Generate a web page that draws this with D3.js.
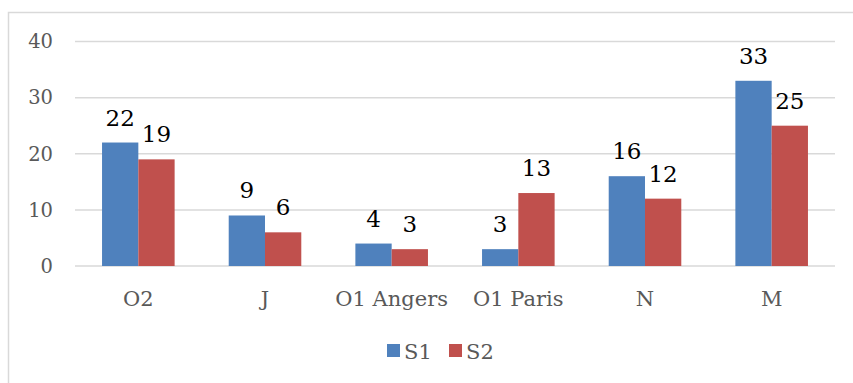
<!DOCTYPE html>
<html>
<head>
<meta charset="utf-8">
<script src="https://cdn.jsdelivr.net/npm/d3@7"></script>
<style>
  html, body { margin: 0; padding: 0; background: #fff; }
  svg { display: block; }
  text { font-family: "DejaVu Serif", "Liberation Serif", serif; }
</style>
</head>
<body>
<svg id="chart" width="853" height="383"></svg>
<script>
// Grouped bar chart: two series per category
const categories = ["O2", "J", "O1 Angers", "O1 Paris", "N", "M"];
const seriesNames = ["S1", "S2"];
const s1Values = [22, 9, 4, 3, 16, 33];
const s2Values = [19, 6, 3, 13, 12, 25];
const yTicks = [0, 10, 20, 30, 40];

const colors = ["#4F81BD", "#C0504D"];
const seriesValues = [s1Values, s2Values];

const svg = d3.select("#chart");
const plot = { left: 75, right: 835, top: 41.5, bottom: 266 };

// Outer chart frame (runs off the right and bottom edges)
svg.append("rect")
  .attr("x", 8.5).attr("y", 12.5)
  .attr("width", 900).attr("height", 400)
  .attr("fill", "none").attr("stroke", "#D9D9D9").attr("stroke-width", 1.5);

const x = d3.scaleBand().domain(categories).range([plot.left, plot.right]).paddingInner(0).paddingOuter(0);
const y = d3.scaleLinear().domain([0, 40]).range([plot.bottom, plot.top]);

const groupWidthRatio = 0.573;
const x1 = d3.scaleBand().domain(seriesNames)
  .range([0, x.bandwidth() * groupWidthRatio]);
const groupOffset = (x.bandwidth() - x.bandwidth() * groupWidthRatio) / 2;

// Horizontal gridlines
svg.append("g").selectAll("line").data(yTicks).join("line")
  .attr("x1", plot.left).attr("x2", plot.right)
  .attr("y1", d => y(d)).attr("y2", d => y(d))
  .attr("stroke", "#D9D9D9").attr("stroke-width", 1.5);

// Y axis labels
const yAxis = d3.axisLeft(y).tickValues(yTicks).tickSize(0).tickPadding(0);
const gy = svg.append("g").attr("transform", `translate(53,0)`).call(yAxis);
gy.select(".domain").remove();
gy.selectAll("text")
  .attr("fill", "#595959").attr("font-size", 19.5)
  .style("font-family", "'DejaVu Serif', serif");

// Bars and value labels
const groups = svg.append("g").selectAll("g").data(categories).join("g")
  .attr("transform", d => `translate(${x(d) + groupOffset},0)`);

seriesNames.forEach((name, si) => {
  groups.append("rect")
    .attr("x", x1(name))
    .attr("y", (d, i) => y(seriesValues[si][i]))
    .attr("width", x1.bandwidth())
    .attr("height", (d, i) => y(0) - y(seriesValues[si][i]))
    .attr("fill", colors[si]);
  groups.append("text")
    .attr("x", x1(name) + x1.bandwidth() / 2)
    .attr("y", (d, i) => y(seriesValues[si][i]) - 17)
    .attr("text-anchor", "middle")
    .attr("font-size", 23)
    .attr("fill", "#000")
    .text((d, i) => seriesValues[si][i]);
});

// Category axis labels
const xAxis = d3.axisBottom(x).tickSize(0).tickPadding(0);
const gx = svg.append("g").attr("transform", `translate(0,306)`).call(xAxis);
gx.select(".domain").remove();
gx.selectAll("text")
  .attr("fill", "#595959").attr("font-size", 21)
  .attr("dy", 0).attr("y", 0)
  .style("font-family", "'DejaVu Serif', serif");

// Legend
const legendItems = [
  { name: seriesNames[0], color: colors[0], x: 387 },
  { name: seriesNames[1], color: colors[1], x: 449 }
];
const lg = svg.append("g");
legendItems.forEach(item => {
  lg.append("rect").attr("x", item.x).attr("y", 344).attr("width", 13).attr("height", 13).attr("fill", item.color);
  lg.append("text").attr("x", item.x + 17).attr("y", 359)
    .attr("font-size", 21).attr("fill", "#595959").text(item.name);
});
</script>
</body>
</html>
